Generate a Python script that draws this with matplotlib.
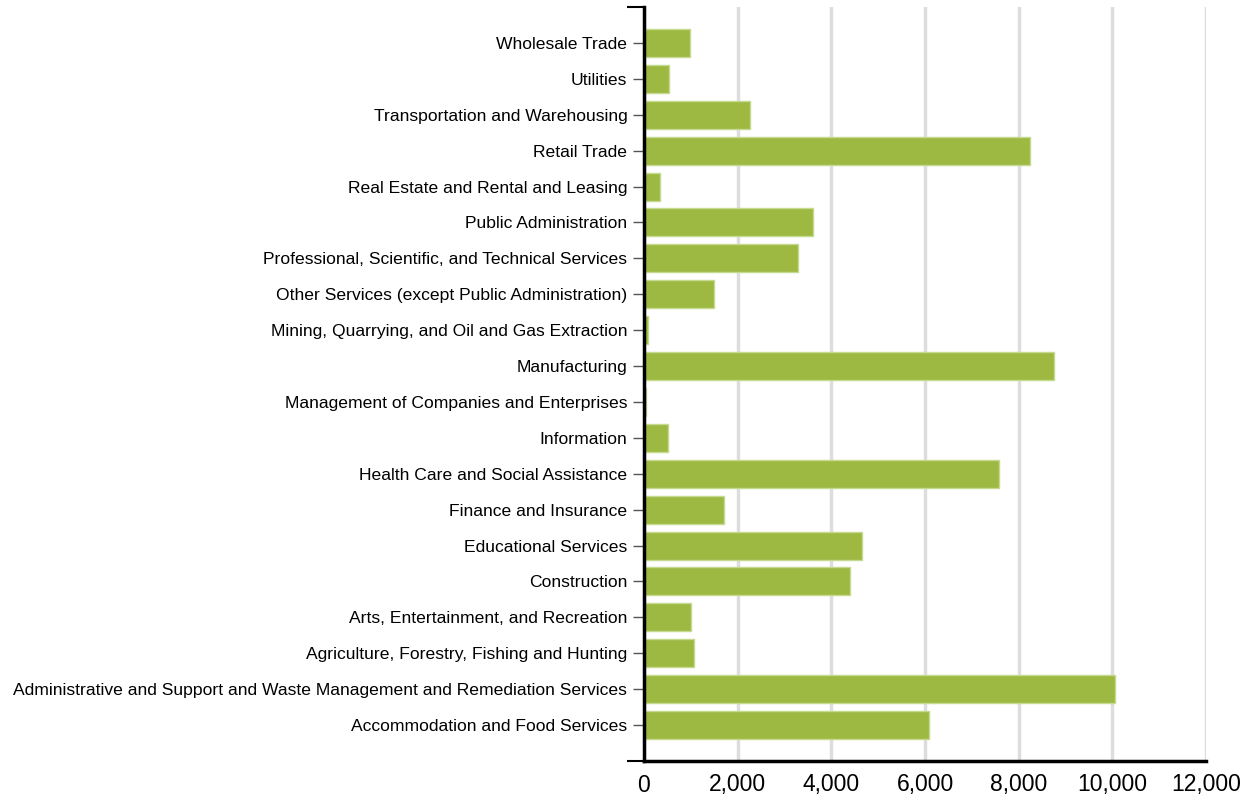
import matplotlib.pyplot as plt
from matplotlib.ticker import FuncFormatter

plt.rcParams['font.family'] = ['Liberation Sans', 'DejaVu Sans']

industries = [
    "Accommodation and Food Services",
    "Administrative and Support and Waste Management and Remediation Services",
    "Agriculture, Forestry, Fishing and Hunting",
    "Arts, Entertainment, and Recreation",
    "Construction",
    "Educational Services",
    "Finance and Insurance",
    "Health Care and Social Assistance",
    "Information",
    "Management of Companies and Enterprises",
    "Manufacturing",
    "Mining, Quarrying, and Oil and Gas Extraction",
    "Other Services (except Public Administration)",
    "Professional, Scientific, and Technical Services",
    "Public Administration",
    "Real Estate and Rental and Leasing",
    "Retail Trade",
    "Transportation and Warehousing",
    "Utilities",
    "Wholesale Trade",
]
employees = [6086, 10058, 1068, 1004, 4399, 4655, 1708, 7580, 512, 43,
             8755, 85, 1495, 3289, 3609, 342, 8243, 2263, 534, 982]

fig = plt.figure(figsize=(12.56, 7.99), dpi=100)
ax = fig.add_axes([644 / 1256, 1 - 761 / 799, (1206 - 644) / 1256, (761 - 7) / 799])

ypos = list(range(len(industries)))
ax.barh(ypos, employees, height=0.78, color='#9db941', edgecolor='#c5d98f',
        linewidth=1, zorder=3)

ax.set_xlim(0, 12000)
ax.set_ylim(-1, len(industries))
ax.set_xticks(range(0, 12001, 2000))
ax.xaxis.set_major_formatter(FuncFormatter(lambda v, p: f"{int(v):,}"))
ax.set_yticks(ypos)
ax.set_yticklabels(industries)

ax.grid(axis='x', color='#dddddd', linewidth=2.5, zorder=0)
ax.tick_params(axis='y', length=8, width=1, color='#555555', labelsize=12.6, pad=4)
ax.tick_params(axis='x', length=0, labelsize=16.5, pad=9)
ax.set_yticks([-1, len(industries)], minor=True)
ax.tick_params(axis='y', which='minor', length=12, width=1.5, color='black')
ax.set_xticks([0, 12000], minor=True)
ax.tick_params(axis='x', which='minor', length=6, width=1.5, color='black')

for s in ['top', 'right']:
    ax.spines[s].set_visible(False)
for s in ['left', 'bottom']:
    ax.spines[s].set_linewidth(2.5)
    ax.spines[s].set_color('black')
    ax.spines[s].set_zorder(4)

fig.savefig('out.png', dpi=100)
